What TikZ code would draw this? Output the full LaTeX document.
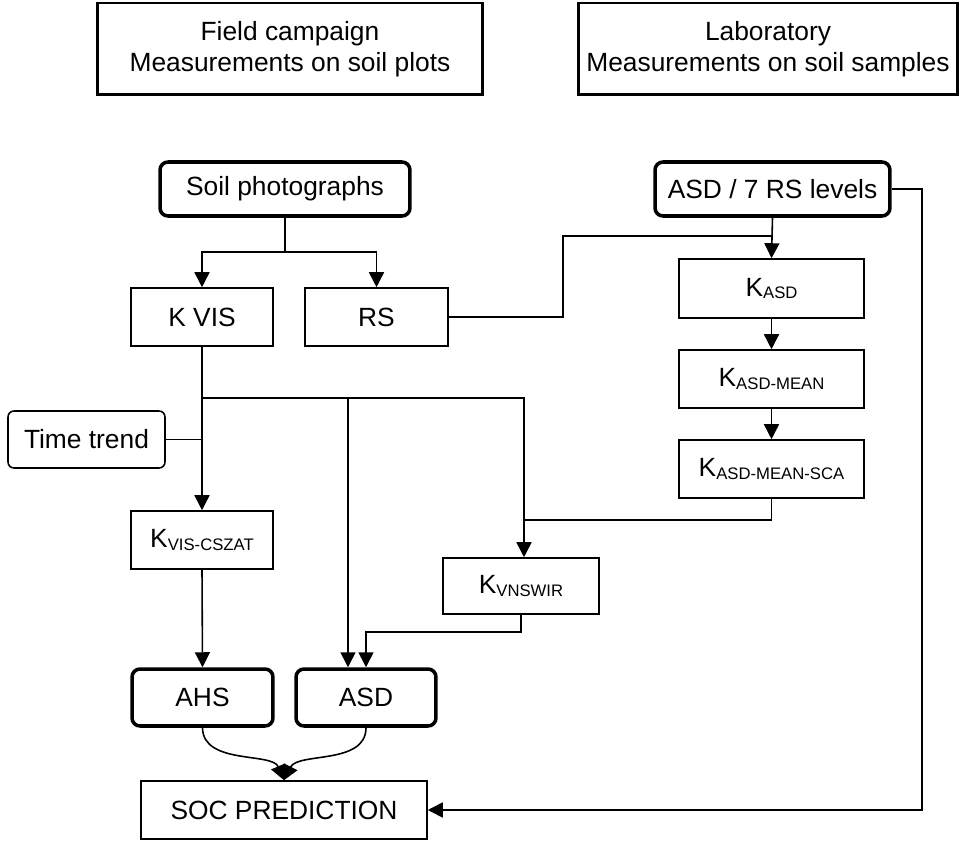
\documentclass[tikz,border=0pt]{standalone}
\usepackage{fontspec}
\setmainfont{Liberation Sans}
\usetikzlibrary{arrows.meta,positioning}

\newcommand{\ksub}[1]{K\raisebox{-0.05cm}{\fontsize{9.5}{10}\selectfont #1}}

\tikzset{
    box/.style={draw, line width=0.9pt, minimum height=1.16cm, inner sep=0pt, align=center},
    srcbox/.style={box, rounded corners=0.16cm, line width=2pt, minimum height=1.08cm},
    headbox/.style={box, line width=1.7pt, minimum height=1.84cm},
    link/.style={line width=0.9pt},
    >={Triangle[length=0.3cm,width=0.3cm]}
}

\begin{document}
\begin{tikzpicture}[x=0.02cm, y=-0.02cm, font=\fontsize{15}{17.5}\selectfont]
    \useasboundingbox (0,0) rectangle (960,841);

    % headers
    \node[headbox, minimum width=7.72cm] (field) at (290,49) {Field campaign\\Measurements on soil plots};
    \node[headbox, minimum width=7.6cm] (lab) at (768,49) {Laboratory\\Measurements on soil samples};

    % field side
    \node[srcbox, minimum width=5cm] (soil) at (285,189) {Soil photographs};
    \node[box, minimum width=2.84cm] (kvis) at (202,317) {K VIS};
    \node[box, minimum width=2.86cm] (rs) at (376.5,317) {RS};
    \node[box, rounded corners=0.12cm, minimum width=3.14cm, minimum height=1.14cm] (trend) at (86.5,439.5) {Time trend};
    \node[box, minimum width=2.84cm] (kcszat) at (202,540) {\ksub{VIS-CSZAT}};
    \node[box, minimum width=3.12cm, minimum height=1.12cm] (kvnswir) at (521,586) {\ksub{VNSWIR}};

    % lab side
    \node[srcbox, minimum width=4.7cm] (asdrs) at (772.5,189) {ASD / 7 RS levels};
    \node[box, minimum width=3.7cm, minimum height=1.18cm] (kasd) at (771.5,288.5) {\ksub{ASD}};
    \node[box, minimum width=3.7cm] (kmean) at (771.5,379) {\ksub{ASD-MEAN}};
    \node[box, minimum width=3.7cm] (ksca) at (771.5,469) {\ksub{ASD-MEAN-SCA}};

    % outputs
    \node[srcbox, minimum width=2.82cm, minimum height=1.14cm] (ahs) at (202.5,697.5) {AHS};
    \node[srcbox, minimum width=2.8cm, minimum height=1.14cm] (asd) at (366,697.5) {ASD};
    \node[box, minimum width=5.72cm] (soc) at (284,810) {SOC PREDICTION};

    % junctions
    \coordinate (split) at (285,252);
    \coordinate (jvis) at (202,398);
    \coordinate (jasd) at (348,398);
    \coordinate (jnir) at (524,520);
    \coordinate (jrs) at (563,236);
    \coordinate (jout) at (366,632);
    \coordinate (jright) at (922,189);

    \draw[link] (soil.south) -- (split);
    \draw[link, ->] (split) -| (kvis.north);
    \draw[link, ->] (split) -| (rs.north);
    \draw[link] (kvis.south) -- (jvis);
    \draw[link, ->] (jvis) -- (kcszat.north);
    \draw[link] (trend.east) -- (trend.east -| jvis);
    \draw[link, ->] (jasd) -- (jasd |- asd.north);
    \draw[link, ->] (jvis) -| (jnir) -- (jnir |- kvnswir.north);
    \draw[link, ->] (kcszat.south) -- (ahs.north);
    \draw[link, ->] (kvnswir.south) |- (jout) -- (asd.north);

    \draw[link, ->] (asdrs.south) -- (kasd.north);
    \draw[link] (rs.east) -| (jrs) -- (jrs -| kasd.north);
    \draw[link, ->] (kasd.south) -- (kmean.north);
    \draw[link, ->] (kmean.south) -- (ksca.north);
    \draw[link] (ksca.south) |- (jnir);
    \draw[link, ->] (asdrs.east) -- (jright) |- (soc.east);

    \draw[link, ->] (ahs.south) .. controls (203,765) and (272,752) .. (soc.north);
    \draw[link, ->] (asd.south) .. controls (366,765) and (298,752) .. (soc.north);
\end{tikzpicture}
\end{document}
